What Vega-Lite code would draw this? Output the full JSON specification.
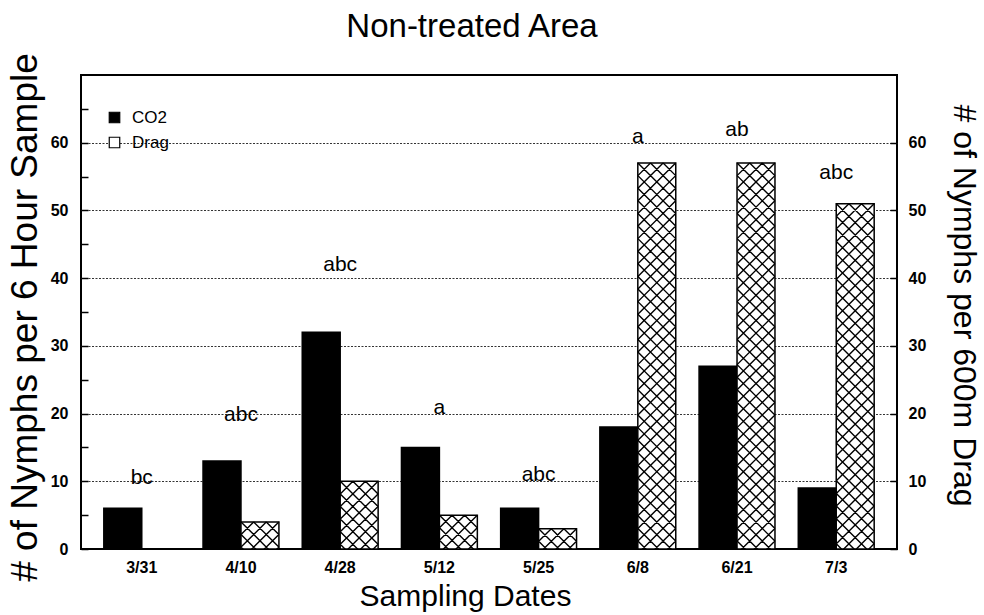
{
  "$schema": "https://vega.github.io/schema/vega-lite/v6.json",
  "width": 816,
  "height": 474,
  "autosize": "none",
  "padding": {"left": 81, "top": 75, "right": 87, "bottom": 66},
  "background": "white",
  "config": {
    "font": "Liberation Sans",
    "view": {"stroke": "black", "strokeWidth": 2}
  },
  "title": {
    "text": "Non-treated Area",
    "fontSize": 33,
    "fontWeight": "normal",
    "font": "Liberation Sans",
    "color": "black",
    "frame": "group",
    "anchor": "middle",
    "dx": -17,
    "baseline": "alphabetic",
    "offset": -17
  },
  "datasets": {
    "bars": [
      {"date": "3/31", "series": "CO2", "value": 6},
      {"date": "3/31", "series": "Drag", "value": 0},
      {"date": "4/10", "series": "CO2", "value": 13},
      {"date": "4/10", "series": "Drag", "value": 4},
      {"date": "4/28", "series": "CO2", "value": 32},
      {"date": "4/28", "series": "Drag", "value": 10},
      {"date": "5/12", "series": "CO2", "value": 15},
      {"date": "5/12", "series": "Drag", "value": 5},
      {"date": "5/25", "series": "CO2", "value": 6},
      {"date": "5/25", "series": "Drag", "value": 3},
      {"date": "6/8", "series": "CO2", "value": 18},
      {"date": "6/8", "series": "Drag", "value": 57},
      {"date": "6/21", "series": "CO2", "value": 27},
      {"date": "6/21", "series": "Drag", "value": 57},
      {"date": "7/3", "series": "CO2", "value": 9},
      {"date": "7/3", "series": "Drag", "value": 51}
    ],
    "letters": [
      {"date": "3/31", "label": "bc", "pos": 10.5},
      {"date": "4/10", "label": "abc", "pos": 19.8},
      {"date": "4/28", "label": "abc", "pos": 41.9},
      {"date": "5/12", "label": "a", "pos": 20.8},
      {"date": "5/25", "label": "abc", "pos": 10.9},
      {"date": "6/8", "label": "a", "pos": 60.8},
      {"date": "6/21", "label": "ab", "pos": 61.9},
      {"date": "7/3", "label": "abc", "pos": 55.5}
    ]
  },
  "resolve": {"axis": {"y": "independent"}},
  "layer": [
    {
      "data": {"name": "bars"},
      "mark": {"type": "bar", "stroke": "black", "strokeWidth": 1.5},
      "encoding": {
        "x": {
          "field": "date",
          "type": "nominal",
          "scale": {"domain": ["3/31", "4/10", "4/28", "5/12", "5/25", "6/8", "6/21", "7/3"], "paddingInner": 0.235, "paddingOuter": 0.23},
          "axis": {
            "title": "Sampling Dates",
            "labelAngle": 0,
            "ticks": false,
            "domain": false,
            "grid": false,
            "labelFontSize": 16,
            "labelFontWeight": "bold",
            "labelColor": "black",
            "labelPadding": 10,
            "titleFontSize": 30,
            "titleFontWeight": "normal",
            "titleColor": "black",
            "titleX": 384,
            "titleY": 56,
            "titleBaseline": "alphabetic",
            "titleAlign": "center"
          }
        },
        "xOffset": {
          "field": "series",
          "type": "nominal",
          "scale": {"domain": ["CO2", "Drag"], "paddingInner": 0, "paddingOuter": 0}
        },
        "y": {
          "field": "value",
          "type": "quantitative",
          "scale": {"domain": [0, 70], "nice": false},
          "axis": {
            "orient": "left",
            "title": "# of Nymphs per 6 Hour Sample",
            "values": [0, 5, 10, 15, 20, 25, 30, 35, 40, 45, 50, 55, 60, 65],
            "labelExpr": "datum.value % 10 == 0 ? datum.label : ''",
            "labelOverlap": false,
            "grid": true,
            "gridOpacity": {"condition": {"test": "datum.value % 10 == 0 && datum.value > 0", "value": 1}, "value": 0},
            "gridColor": "#333333",
            "gridDash": [2, 1.5],
            "gridWidth": 1,
            "domain": false,
            "tickSize": -7,
            "tickColor": "black",
            "tickWidth": 1.5,
            "labelFontSize": 16,
            "labelFontWeight": "bold",
            "labelColor": "black",
            "labelPadding": 20,
            "titleFontSize": 37,
            "titleFontWeight": "normal",
            "titleColor": "black",
            "titleX": -45,
            "titleY": 242,
            "titleAngle": 270,
            "titleBaseline": "alphabetic",
            "titleAlign": "center"
          }
        },
        "fill": {
          "field": "series",
          "type": "nominal",
          "scale": {"domain": ["CO2", "Drag"], "range": ["black", "white"]},
          "legend": {
            "orient": "none",
            "legendX": 25,
            "legendY": 34,
            "title": null,
            "symbolType": "square",
            "symbolSize": 110,
            "symbolStrokeColor": "black",
            "symbolStrokeWidth": 1.2,
            "symbolOpacity": 1,
            "labelFontSize": 17,
            "labelColor": "black",
            "labelFont": "Liberation Sans",
            "rowPadding": 7,
            "labelOffset": 9,
            "padding": 0
          }
        }
      }
    },
    {
      "data": {"name": "bars"},
      "transform": [{"filter": "datum.series == 'Drag' && datum.value > 0"}],
      "mark": {
        "type": "point",
        "shape": "M6.3 0L18.9 12.6M-6.3 0L18.9 25.2M-6.3 0L-18.9 12.6M6.3 0L-18.9 25.2M-18.9 0l37.8 37.8M18.9 0l-37.8 37.8M-18.9 12.6l37.8 37.8M18.9 12.6l-37.8 37.8M-18.9 25.2l37.8 37.8M18.9 25.2l-37.8 37.8M-18.9 37.8l37.8 37.8M18.9 37.8l-37.8 37.8M-18.9 50.4l37.8 37.8M18.9 50.4l-37.8 37.8M-18.9 63l37.8 37.8M18.9 63l-37.8 37.8M-18.9 75.6l37.8 37.8M18.9 75.6l-37.8 37.8M-18.9 88.2l37.8 37.8M18.9 88.2l-37.8 37.8M-18.9 100.8l37.8 37.8M18.9 100.8l-37.8 37.8M-18.9 113.4l37.8 37.8M18.9 113.4l-37.8 37.8M-18.9 126l37.8 37.8M18.9 126l-37.8 37.8M-18.9 138.6l37.8 37.8M18.9 138.6l-37.8 37.8M-18.9 151.2l37.8 37.8M18.9 151.2l-37.8 37.8M-18.9 163.8l37.8 37.8M18.9 163.8l-37.8 37.8M-18.9 176.4l37.8 37.8M18.9 176.4l-37.8 37.8M-18.9 189l37.8 37.8M18.9 189l-37.8 37.8M-18.9 201.6l37.8 37.8M18.9 201.6l-37.8 37.8M-18.9 214.2l37.8 37.8M18.9 214.2l-37.8 37.8M-18.9 226.8l37.8 37.8M18.9 226.8l-37.8 37.8M-18.9 239.4l37.8 37.8M18.9 239.4l-37.8 37.8M-18.9 252l37.8 37.8M18.9 252l-37.8 37.8M-18.9 264.6l37.8 37.8M18.9 264.6l-37.8 37.8M-18.9 277.2l37.8 37.8M18.9 277.2l-37.8 37.8M-18.9 289.8l37.8 37.8M18.9 289.8l-37.8 37.8M-18.9 302.4l37.8 37.8M18.9 302.4l-37.8 37.8M-18.9 315l37.8 37.8M18.9 315l-37.8 37.8M-18.9 327.6l37.8 37.8M18.9 327.6l-37.8 37.8M-18.9 340.2l37.8 37.8M18.9 340.2l-37.8 37.8M-18.9 352.8l37.8 37.8M18.9 352.8l-37.8 37.8M-18.9 365.4l37.8 37.8M18.9 365.4l-37.8 37.8M-18.9 378l37.8 37.8M18.9 378l-37.8 37.8M-18.9 390.6l37.8 37.8M18.9 390.6l-37.8 37.8",
        "size": 4,
        "filled": false,
        "stroke": "black",
        "strokeWidth": 1.4,
        "opacity": 1,
        "clip": true
      },
      "encoding": {
        "x": {"field": "date", "type": "nominal"},
        "xOffset": {"field": "series", "type": "nominal"},
        "y": {"field": "value", "type": "quantitative", "axis": null}
      }
    },
    {
      "data": {"name": "letters"},
      "mark": {"type": "text", "fontSize": 21, "font": "Liberation Sans", "color": "black", "baseline": "middle", "align": "center"},
      "encoding": {
        "x": {"field": "date", "type": "nominal"},
        "y": {
          "field": "pos",
          "type": "quantitative",
          "axis": {
            "orient": "right",
            "title": "# of Nymphs per 600m Drag",
            "values": [0, 10, 20, 30, 40, 50, 60],
            "grid": false,
            "domain": false,
            "tickSize": -7,
            "tickColor": "black",
            "tickWidth": 1.5,
            "labelFontSize": 16,
            "labelFontWeight": "bold",
            "labelColor": "black",
            "labelPadding": 18,
            "titleFontSize": 32,
            "titleFontWeight": "normal",
            "titleColor": "black",
            "titleX": 56,
            "titleY": 230,
            "titleAngle": 90,
            "titleBaseline": "alphabetic",
            "titleAlign": "center"
          }
        },
        "text": {"field": "label", "type": "nominal"}
      }
    }
  ]
}
